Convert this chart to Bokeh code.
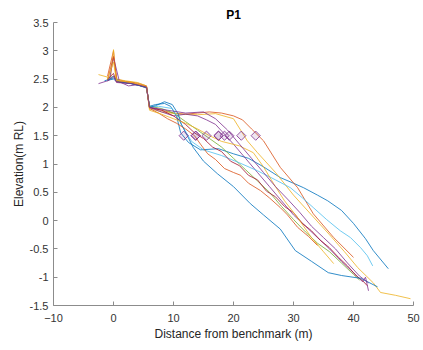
import numpy as np
from bokeh.plotting import figure
from bokeh.models import Range1d, FixedTicker
from bokeh.embed import file_html
from bokeh.resources import INLINE

x_ticks = [-10, 0, 10, 20, 30, 40, 50]
y_ticks = [-1.5, -1, -0.5, 0, 0.5, 1, 1.5, 2, 2.5, 3, 3.5]
y_tick_labels = ["-1.5", "-1", "-0.5", "0", "0.5", "1", "1.5", "2", "2.5", "3", "3.5"]

colors = ["#0072BD", "#D95319", "#EDB120", "#7E2F8E", "#77AC30", "#4DBEEE", "#A2142F"]

p01_x = [-1, 0, 0.5, 2, 4, 5.5, 6, 7, 8.5, 9.5, 10.5, 11.2, 12.5, 14.5, 17.5, 20, 22.5, 25, 27.8, 30, 31.7, 34, 35.7, 38, 40, 42, 43.3, 45.8]
p01_y = [2.48, 2.5, 2.46, 2.44, 2.4, 2.36, 2.02, 2.05, 2.07, 2.02, 1.85, 1.55, 1.38, 1.25, 1.27, 1.18, 1.1, 0.95, 0.76, 0.66, 0.58, 0.45, 0.35, 0.18, -0.05, -0.32, -0.53, -0.85]

p02_x = [-1, 0, 0.5, 2, 4, 5.5, 6, 8, 10, 12, 14, 16, 18, 20, 21.5, 23, 25, 27.8, 30.7, 33.3, 36.7, 40]
p02_y = [2.55, 3.0, 2.5, 2.46, 2.43, 2.38, 2.0, 1.95, 1.9, 1.88, 1.9, 1.92, 1.9, 1.85, 1.78, 1.62, 1.41, 0.94, 0.58, 0.12, -0.3, -0.65]

p03_x = [-2.5, -0.5, 0, 0.4, 2, 4, 5.5, 6, 8, 11, 14, 17, 20, 22.3, 24, 27, 30, 33, 36, 38.5, 40.7, 43.3, 44.5, 47, 49.5]
p03_y = [2.58, 2.52, 3.02, 2.5, 2.47, 2.44, 2.38, 1.98, 1.92, 1.88, 1.87, 1.89, 1.8, 1.41, 1.2, 0.85, 0.45, 0.1, -0.25, -0.55, -0.83, -1.1, -1.27, -1.32, -1.38]

p04_x = [-2.5, -0.7, 0, 1, 2.5, 4, 5.5, 6, 8, 10, 12, 14, 15.5, 17, 18.3, 20, 22, 24, 26, 28, 30, 32, 34, 36, 38, 40, 41.5, 42, 42.5]
p04_y = [2.42, 2.48, 2.88, 2.45, 2.38, 2.4, 2.34, 2.0, 1.92, 1.85, 1.88, 1.85, 1.78, 1.7, 1.55, 1.35, 1.1, 0.85, 0.6, 0.35, 0.1, -0.1, -0.3, -0.5, -0.72, -0.92, -1.08, -1.0, -1.24]

p05_x = [-1, 0, 1, 3, 5.5, 6, 8, 10, 12, 14, 16, 18, 20, 22, 24, 26, 28, 30, 32, 34, 36, 38, 40, 41]
p05_y = [2.5, 2.55, 2.45, 2.43, 2.35, 2.02, 1.98, 1.9, 1.75, 1.6, 1.45, 1.3, 1.1, 0.9, 0.7, 0.5, 0.25, 0.02, -0.2, -0.4, -0.55, -0.75, -0.95, -1.05]

p06_x = [-1, 0, 1, 3, 5.5, 6, 7.5, 9.8, 10.8, 11.7, 13, 15, 18, 21, 24, 27, 29.5, 31.5, 33.3, 35.5, 37.8, 39.5, 41.2, 42.3, 43.2]
p06_y = [2.5, 2.55, 2.46, 2.42, 2.36, 2.0, 2.02, 1.98, 1.8, 1.63, 1.4, 1.25, 1.15, 1.02, 0.88, 0.72, 0.58, 0.4, 0.23, 0.02, -0.18, -0.3, -0.48, -0.62, -0.8]

p07_x = [-1, 0, 0.5, 3, 5.5, 6, 8, 10, 12, 13.5, 15, 16.5, 18, 19.5, 21, 22.5, 24, 25.5, 27, 28.5, 30, 31.5, 33, 34.5, 36, 37.5, 39, 40.5, 41.5, 42.3]
p07_y = [2.5, 2.6, 2.45, 2.42, 2.36, 2.0, 1.95, 1.85, 1.7, 1.55, 1.45, 1.3, 1.22, 1.05, 0.97, 0.8, 0.72, 0.52, 0.42, 0.25, 0.14, -0.05, -0.18, -0.35, -0.48, -0.65, -0.8, -0.98, -1.06, -1.15]

p08_x = [-1.5, 0, 1, 3, 5.5, 6, 7, 8.5, 9.8, 10.8, 11.3, 12.3, 13.3, 15, 17.3, 20, 22.8, 25, 27.8, 30.3, 33, 35.8, 38, 41.2, 44]
p08_y = [2.47, 2.52, 2.45, 2.42, 2.35, 2.0, 2.03, 2.1, 2.05, 1.88, 1.7, 1.5, 1.29, 1.05, 0.83, 0.6, 0.3, 0.1, -0.15, -0.53, -0.72, -0.92, -0.97, -1.02, -1.17]

p09_x = [-1, 0, 0.6, 3, 5.5, 6, 7.5, 9, 10.5, 12, 13.5, 14.5, 15.7, 17, 18.5, 20, 21.2, 22.5, 24.5, 26, 27.8, 29, 30.7, 32.5, 34]
p09_y = [2.48, 2.9, 2.47, 2.44, 2.37, 1.98, 1.9, 1.8, 1.72, 1.62, 1.5, 1.35, 1.18, 1.08, 0.92, 0.85, 0.8, 0.66, 0.53, 0.4, 0.23, 0.1, -0.12, -0.28, -0.44]

p10_x = [-1, 0, 0.5, 3, 5.5, 6, 8, 10, 12, 14, 16, 18, 21, 23.3, 25, 26.7, 28.5, 30.7, 33, 35, 36.7]
p10_y = [2.5, 2.8, 2.48, 2.44, 2.37, 1.95, 1.88, 1.8, 1.72, 1.62, 1.5, 1.4, 1.32, 1.2, 0.95, 0.65, 0.35, 0.05, -0.3, -0.55, -0.76]

p11_x = [-1, 0, 0.5, 3, 5.5, 6, 9, 12, 15, 17, 19, 21, 23, 25, 27, 29, 31, 33, 35, 37, 39, 41, 42.5]
p11_y = [2.47, 2.55, 2.44, 2.42, 2.36, 2.0, 1.95, 1.9, 1.92, 1.8, 1.6, 1.35, 1.1, 0.85, 0.6, 0.38, 0.15, -0.1, -0.3, -0.5, -0.75, -0.98, -1.1]

marker_x = [11.7, 13.7, 13.7, 15.5, 17.5, 17.5, 18.5, 19.3, 21.3, 23.7]
marker_y = [1.5, 1.5, 1.5, 1.5, 1.5, 1.5, 1.5, 1.5, 1.5, 1.5]

profiles = [(p01_x, p01_y), (p02_x, p02_y), (p03_x, p03_y), (p04_x, p04_y), (p05_x, p05_y),
            (p06_x, p06_y), (p07_x, p07_y), (p08_x, p08_y), (p09_x, p09_y), (p10_x, p10_y),
            (p11_x, p11_y)]

FONT = "Liberation Sans"

p = figure(width=421, height=350, output_backend="svg", toolbar_location=None,
           x_range=Range1d(-10, 50), y_range=Range1d(-1.5, 3.5),
           title="P1",
           min_border_left=53, min_border_right=8, min_border_top=22, min_border_bottom=45)
p.outline_line_color = None
p.grid.visible = False
p.background_fill_color = "white"
p.title.align = "center"
p.title.text_font = FONT
p.title.text_font_size = "12px"
p.title.text_font_style = "bold"
p.title.text_color = "#000000"
p.title.standoff = 2
p.title.offset = 0

for i, (xs, ys) in enumerate(profiles):
    p.line(xs, ys, line_color=colors[i % len(colors)], line_width=1, line_alpha=0.8)

p.scatter(marker_x, marker_y, marker="square", angle=np.pi / 4, size=6.5,
          line_color="#7E2F8E", fill_color="#7E2F8E", fill_alpha=0.12, line_width=1, line_alpha=0.8)

for ax in (p.xaxis[0], p.yaxis[0]):
    ax.major_tick_in = 4
    ax.major_tick_out = 0
    ax.minor_tick_line_color = None
    ax.axis_line_color = "#8c8c8c"
    ax.major_tick_line_color = "#8c8c8c"
    ax.major_label_text_font = FONT
    ax.major_label_text_font_size = "11px"
    ax.major_label_text_color = "#333333"
    ax.axis_label_text_font = FONT
    ax.axis_label_text_font_size = "12px"
    ax.axis_label_text_font_style = "normal"
    ax.axis_label_text_color = "#262626"

p.xaxis.ticker = FixedTicker(ticks=x_ticks)
p.yaxis.ticker = FixedTicker(ticks=y_ticks)
p.yaxis.major_label_overrides = {t: l for t, l in zip(y_ticks, y_tick_labels)}
p.xaxis.major_label_standoff = 8
p.yaxis.major_label_standoff = 5
p.xaxis.axis_label = "Distance from benchmark (m)"
p.yaxis.axis_label = "Elevation(m RL)"
p.xaxis.axis_label_standoff = 2
p.yaxis.axis_label_standoff = 1

open("out.html", "w").write(file_html(p, INLINE))
